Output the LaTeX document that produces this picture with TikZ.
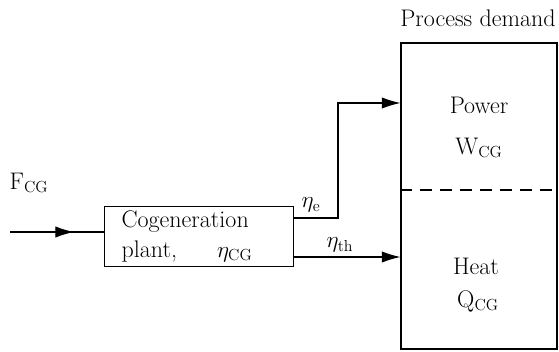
\documentclass[tikz,border=0pt]{standalone}
\usepackage{amsmath}
\usetikzlibrary{arrows.meta,decorations.markings}

\begin{document}
\begin{tikzpicture}[x=0.75pt,y=0.75pt,yscale=-1,xscale=1,
  font=\fontsize{18}{22}\selectfont,
  tip/.style={-{Latex[length=14pt,width=8.5pt]}},
  midtip/.style={postaction={decorate},decoration={markings,
    mark=at position 0.68 with {\arrow{Latex[length=14pt,width=8.5pt]}}}},
  plantbox/.style={draw,line width=0.8pt,minimum height=44pt,text width=116pt,inner xsep=12.75pt,align=left},
  demandbox/.style={draw,line width=0.8pt,minimum width=117pt,minimum height=229.5pt}]
\useasboundingbox (0,0) rectangle (559,352);

% Boxes
\node [plantbox] (plant) at (199,236.5) {Cogeneration\\plant,\quad\ \ $\eta_{\mathrm{CG}}$};
\node [demandbox] (demand) at (479,196) {};

% Dashed divider
\coordinate (divl) at (demand.west |- 0,190);
\coordinate (divr) at (demand.east |- 0,190);
\draw [dashed,dash pattern=on 9pt off 6pt,line width=0.8pt] (divl) -- (divr);

%Straight Lines: fuel in
\coordinate (fin) at (10,232);
\draw [line width=0.8pt,midtip] (fin) -- (plant.west |- fin);

%Straight Lines: power out
\coordinate (eout) at (plant.east |- 0,218);
\coordinate (ebend) at (338,218);
\coordinate (etop) at (338,103);
\draw [line width=0.8pt,tip] (eout) -- (ebend) -- (etop) -- (demand.west |- etop);

%Straight Lines: heat out
\coordinate (thout) at (plant.east |- 0,257);
\draw [line width=0.8pt,tip] (thout) -- (demand.west |- thout);

% Text Node
\node (fcg) at (29,183) {F$_{\mathrm{CG}}$};
% Text Node
\node (etae) at (311,205) {$\eta_{\mathrm{e}}$};
% Text Node
\node (etath) at (340,245) {$\eta_{\mathrm{th}}$};
% Text Node
\node (title) at (478,18) {Process demand};
% Text Node
\node (power) at (479,105) {Power};
% Text Node
\node (wcg) at (479,148) {W$_{\mathrm{CG}}$};
% Text Node
\node (heat) at (476,266) {Heat};
% Text Node
\node (qcg) at (478,301) {Q$_{\mathrm{CG}}$};

\end{tikzpicture}
\end{document}
